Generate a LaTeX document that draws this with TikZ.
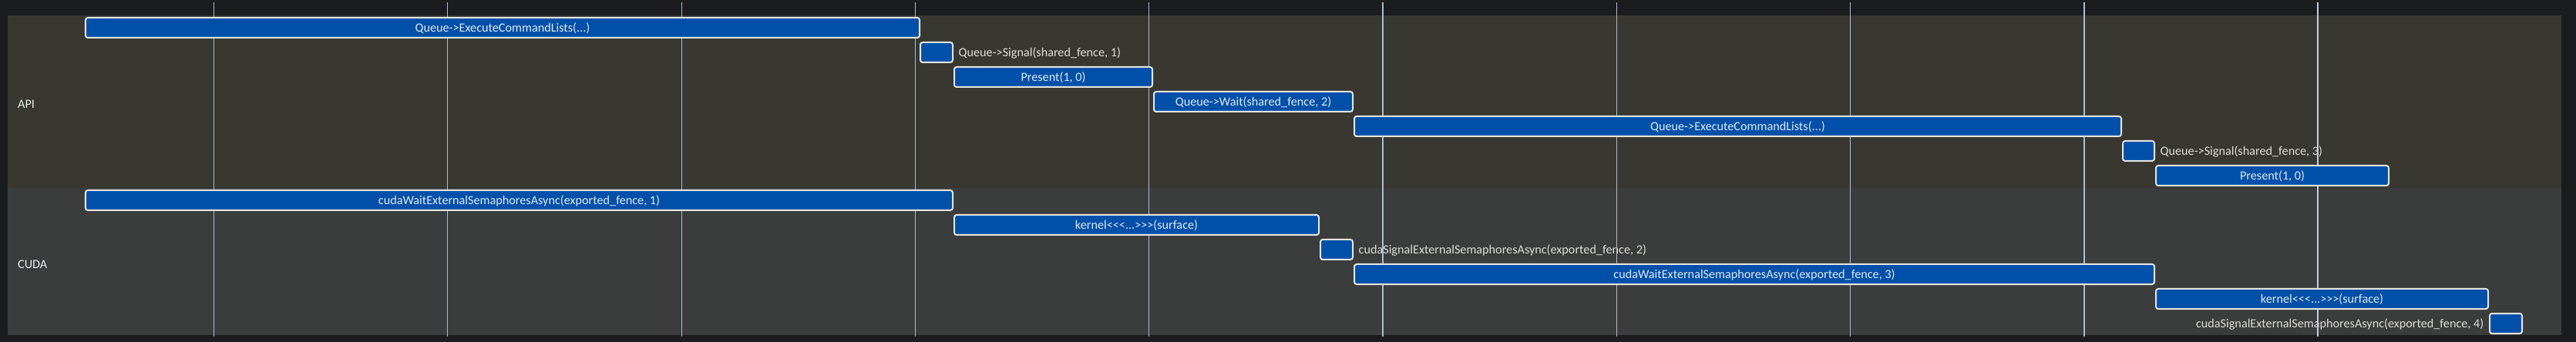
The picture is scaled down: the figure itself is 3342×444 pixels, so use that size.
\documentclass[tikz,border=0pt]{standalone}
\usepackage{fontspec}
\setmainfont{Carlito}
\pgfdeclarelayer{bgzero}
\pgfdeclarelayer{bgone}
\pgfsetlayers{bgzero,bgone,main}
\definecolor{outerbg}{HTML}{1B1C1E}
\definecolor{apibg}{HTML}{393830}
\definecolor{cudabg}{HTML}{3B3C3C}
\definecolor{barfill}{HTML}{0050AA}
\definecolor{barborder}{HTML}{E6E4DE}
\definecolor{bartext}{HTML}{E2E8EE}
\definecolor{outtext}{HTML}{DEDED8}
\definecolor{lanetext}{HTML}{E6F2F2}
\definecolor{gridcol}{HTML}{A6BED8}
\definecolor{gridnow}{HTML}{BCD0E6}
\tikzset{
  every node/.style={font=\fontsize{16.2bp}{19bp}\selectfont, text height=10.4bp, text depth=0bp},
  evbar/.style={draw=barborder, line width=2bp, fill=barfill, rounded corners=3bp,
    minimum height=26bp, inner sep=0pt, text=bartext, anchor=center},
  outlabel/.style={inner sep=0pt, text=outtext},
  lanelabel/.style={inner sep=0pt, text=lanetext, anchor=west},
  gridline/.style={draw=gridcol, line width=1.2bp},
}
\begin{document}
\begin{tikzpicture}[x=1bp, y=-1bp]
\useasboundingbox (0,0) rectangle (3342,444);
% ---------------- bars (main layer) ----------------
% API lane
\node[evbar, minimum width=1082bp] (ecl1) at (652,36) {Queue->ExecuteCommandLists(...)};
\node[evbar, minimum width=42bp] (sig1) at (1215,68) {};
\node[evbar, minimum width=257bp] (pres1) at (1366.5,100) {Present(1, 0)};
\node[evbar, minimum width=258bp] (wait2) at (1626,132) {Queue->Wait(shared\_fence, 2)};
\node[evbar, minimum width=995bp] (ecl2) at (2254.5,164) {Queue->ExecuteCommandLists(...)};
\node[evbar, minimum width=41bp] (sig3) at (2774.5,196) {};
\node[evbar, minimum width=302bp] (pres2) at (2948,228) {Present(1, 0)};
% CUDA lane
\node[evbar, minimum width=1125bp] (cw1) at (673.5,260) {cudaWaitExternalSemaphoresAsync(exported\_fence, 1)};
\node[evbar, minimum width=473bp] (k1) at (1474.5,292) {kernel<{}<{}<...>{}>{}>(surface)};
\node[evbar, minimum width=42bp] (cs2) at (1734,324) {};
\node[evbar, minimum width=1038bp] (cw3) at (2276,356) {cudaWaitExternalSemaphoresAsync(exported\_fence, 3)};
\node[evbar, minimum width=431bp] (k2) at (3012.5,388) {kernel<{}<{}<...>{}>{}>(surface)};
\node[evbar, minimum width=42bp] (cs4) at (3251,420) {};
% ---------------- background panels ----------------
\begin{pgfonlayer}{bgzero}
\fill[outerbg] (0,0) rectangle (3342,444);
\fill[apibg] (10,20) rectangle (3323,244);
\fill[cudabg] (10,244) rectangle (3323,435);
\end{pgfonlayer}
% ---------------- labels and grid ----------------
\begin{pgfonlayer}{bgone}
\node[lanelabel] (apilab) at (23,135.7) {API};
\node[lanelabel] (cudalab) at (23,343) {CUDA};
\node[outlabel, anchor=west] (sig1lab) at ([xshift=6.5bp]sig1.east) {Queue->Signal(shared\_fence, 1)};
\node[outlabel, anchor=west] (sig3lab) at ([xshift=6.5bp]sig3.east) {Queue->Signal(shared\_fence, 3)};
\node[outlabel, anchor=west] (cs2lab) at ([xshift=6.5bp]cs2.east) {cudaSignalExternalSemaphoresAsync(exported\_fence, 2)};
\node[outlabel, anchor=east] (cs4lab) at ([xshift=-6.5bp]cs4.west) {cudaSignalExternalSemaphoresAsync(exported\_fence, 4)};
\foreach \gx in {277.5,580.8,884.1,1187.4,1490.7,1794,2097.3,2400.6,2703.9}{
  \draw[gridline] (\gx,3) -- (\gx,437);
}
\draw[draw=gridnow, line width=2bp] (3007.2,3) -- (3007.2,437);
\end{pgfonlayer}
\end{tikzpicture}
\end{document}
